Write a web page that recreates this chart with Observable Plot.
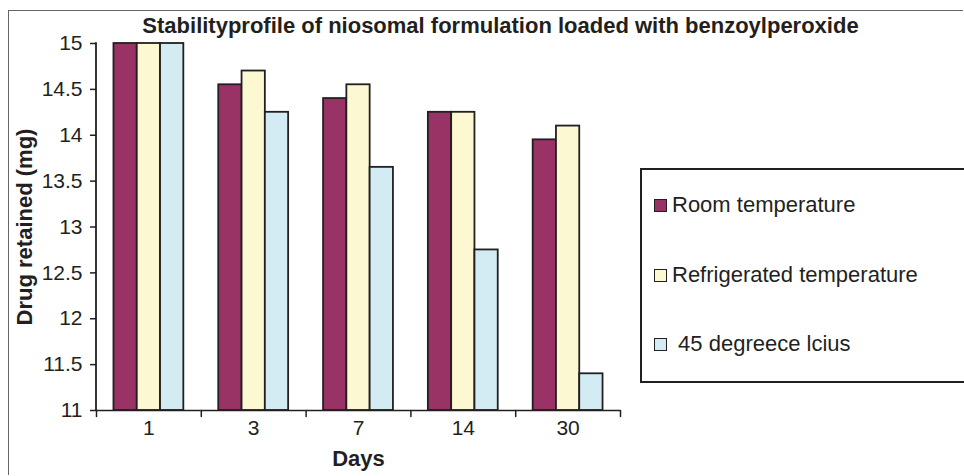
<!DOCTYPE html>
<html>
<head>
<meta charset="utf-8">
<script src="https://cdn.jsdelivr.net/npm/d3@7"></script>
<script src="https://cdn.jsdelivr.net/npm/@observablehq/plot@0.6"></script>
<style>
  html, body { margin: 0; padding: 0; background: #fff; overflow: hidden; }
  body { width: 964px; height: 476px; position: relative; font-family: "Liberation Sans", Arial, sans-serif; color: #231f20; }
  #frame { position: absolute; left: 8px; top: 10px; width: 954px; height: 464px; border-top: 1.5px solid #666; border-left: 1.5px solid #666; }
  #chart { position: absolute; left: 0; top: 0; }
  #title { position: absolute; left: 37px; width: 927px; top: 15px; line-height: 1; text-align: center; font-weight: bold; font-size: 22px; white-space: nowrap; }
  #legend { position: absolute; left: 640px; top: 168px; width: 322px; height: 211px; border: 2px solid #231f20; border-right: none; background: #fff; }
  .item { position: absolute; left: 12px; height: 24px; display: flex; align-items: center; font-size: 22px; white-space: pre; }
  .sw { width: 11px; height: 11px; border: 1.5px solid #231f20; margin-right: 5px; }
</style>
</head>
<body>
<div id="frame"></div>
<div id="chart"></div>
<div id="title"></div>
<div id="legend"></div>
<script>
const titleText = "Stabilityprofile of niosomal formulation loaded with benzoylperoxide";
const days = ["1", "3", "7", "14", "30"];
const series = ["Room temperature", "Refrigerated temperature", " 45 degreece lcius"];
const roomValues = [15, 14.55, 14.4, 14.25, 13.95];
const fridgeValues = [15, 14.7, 14.55, 14.25, 14.1];
const hotValues = [15, 14.25, 13.65, 12.75, 11.4];
const yTicks = [11, 11.5, 12, 12.5, 13, 13.5, 14, 14.5, 15];
const colors = ["#993366", "#FBF8D2", "#D3ECF4"];

const valuesBySeries = [roomValues, fridgeValues, hotValues];
const data = [];
days.forEach((d, i) => series.forEach((s, j) => data.push({day: d, series: s, value: valuesBySeries[j][i]})));

const tickShape = {draw(context, l) { context.moveTo(0, 0); context.lineTo(0, -l); }};

const chart = Plot.plot({
  width: 964, height: 476,
  marginLeft: 96, marginRight: 344, marginTop: 43, marginBottom: 66,
  style: {fontFamily: "'Liberation Sans', Arial, sans-serif", fontSize: "21px", color: "#231f20", background: "transparent", overflow: "visible"},
  fx: {domain: days, padding: 0, round: false},
  x: {domain: series, paddingInner: 0, paddingOuter: 0.75, round: false, axis: null},
  y: {domain: [11, 15]},
  color: {domain: series, range: colors},
  marks: [
    Plot.barY(data, {fx: "day", x: "series", y1: 11, y2: "value", fill: "series", stroke: "#231f20", strokeWidth: 1.8}),
    Plot.ruleY([11], {stroke: "#231f20", strokeWidth: 1.6}),
    Plot.axisY({ticks: yTicks, tickFormat: d => String(d), tickSize: 6, tickPadding: 8, stroke: "#231f20", strokeWidth: 1.5,
      label: "Drug retained (mg)", labelAnchor: "center", labelOffset: 80, labelArrow: "none"}),
    Plot.axisFx({anchor: "bottom", tickSize: 0, tickPadding: 10, label: "Days", labelAnchor: "center", labelOffset: 55}),
    Plot.vector(days, {fx: d => d, frameAnchor: "bottom-left", length: 6, rotate: 180, anchor: "start", shape: tickShape, stroke: "#231f20", strokeWidth: 1.5}),
    Plot.vector(days.slice(-1), {fx: d => d, frameAnchor: "bottom-right", length: 6, rotate: 180, anchor: "start", shape: tickShape, stroke: "#231f20", strokeWidth: 1.5})
  ]
});
document.getElementById("chart").appendChild(chart);
const svg = d3.select(chart);
svg.selectAll('[aria-label="y-axis label"], [aria-label="fx-axis label"]').attr("font-weight", "bold").attr("font-size", "22px");

// vertical y-axis line, positioned through the plot's own scales
const yScale = chart.scale("y");
const fxScale = chart.scale("fx");
const axisX = fxScale.apply(days[0]);
svg.append("line")
  .attr("x1", axisX).attr("x2", axisX)
  .attr("y1", yScale.apply(yScale.domain[0]) + 0.8).attr("y2", yScale.apply(yScale.domain[1]) - 0.8)
  .attr("stroke", "#231f20").attr("stroke-width", 1.8);

document.getElementById("title").textContent = titleText;

const legendCenters = [205, 275, 344];
const legend = d3.select("#legend");
series.forEach((s, i) => {
  const item = legend.append("div").attr("class", "item").style("top", (legendCenters[i] - 170 - 12) + "px");
  item.append("div").attr("class", "sw").style("background", colors[i]);
  item.append("span").text(s);
});
</script>
</body>
</html>
